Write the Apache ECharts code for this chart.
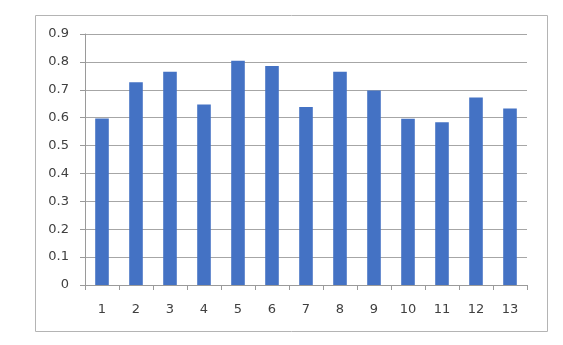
<!DOCTYPE html>
<html><head><meta charset="utf-8">
<script src="https://cdn.jsdelivr.net/npm/echarts@6/dist/echarts.min.js"></script>
<style>html,body{margin:0;padding:0;background:#fff}#c{width:563px;height:345px}</style>
</head><body><div id="c"></div>
<script>
var categories = ['1','2','3','4','5','6','7','8','9','10','11','12','13'];
var values = [0.597, 0.727, 0.765, 0.647, 0.804, 0.785, 0.638, 0.765, 0.697, 0.596, 0.584, 0.672, 0.633];
var yTicks = {min: 0, max: 0.9, interval: 0.1};

var chart = echarts.init(document.getElementById('c'));
var font = {fontFamily: 'DejaVu Sans', fontSize: 13, color: '#404040'};
chart.setOption({
  animation: false,
  graphic: [{type: 'rect', shape: {x: 35.5, y: 15.5, width: 512, height: 316}, style: {fill: 'none', stroke: '#B4B4B4', lineWidth: 1}, silent: true}],
  grid: {left: 85, right: 36, top: 34, bottom: 60, containLabel: false},
  xAxis: {
    type: 'category', data: categories,
    axisLine: {lineStyle: {color: '#9A9A9A'}},
    axisTick: {show: true, length: 5, alignWithLabel: false, lineStyle: {color: '#9A9A9A'}},
    axisLabel: Object.assign({margin: 18}, font)
  },
  yAxis: {
    type: 'value', min: yTicks.min, max: yTicks.max, interval: yTicks.interval,
    axisLine: {show: true, lineStyle: {color: '#9A9A9A'}},
    axisTick: {show: true, length: 5, lineStyle: {color: '#9A9A9A'}},
    splitLine: {lineStyle: {color: '#A6A6A6'}},
    axisLabel: Object.assign({margin: 16, formatter: function(v){return String(Math.round(v*10)/10);}}, font)
  },
  series: [{type: 'bar', data: values, barWidth: '40%', itemStyle: {color: '#4472C4'}}]
});
</script></body></html>
